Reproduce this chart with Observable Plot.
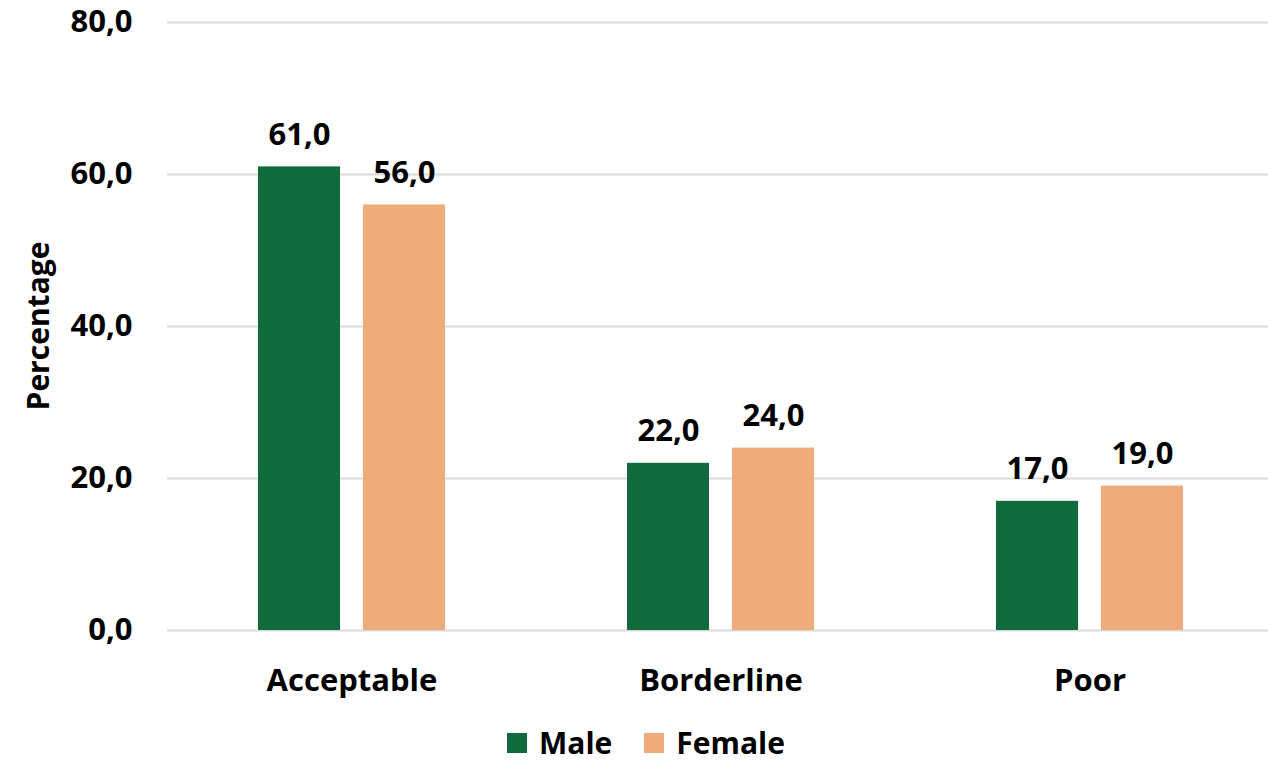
<!DOCTYPE html>
<html>
<head>
<meta charset="utf-8">
<script src="https://cdn.jsdelivr.net/npm/d3@7"></script>
<script src="https://cdn.jsdelivr.net/npm/@observablehq/plot@0.6"></script>
<style>
  html, body { margin: 0; background: #fff; font-family: "Open Sans", Lato, sans-serif; overflow: hidden; }
  #wrap { position: relative; width: 1268px; }
  #chart svg { display: block; }
  .ylabel { position: absolute; left: 38px; top: 326px; transform: translate(-50%, -50%) rotate(-90deg);
            white-space: nowrap; font-weight: 700; font-size: 30px; line-height: 1; color: #000; }
  .legend { display: flex; align-items: center; height: 30px; margin-top: 23px; padding-left: 507px; font-weight: 700; font-size: 30px; color: #000; }
  .legend .item { display: flex; align-items: center; margin-right: 32px; line-height: 30px; }
  .legend .sw { width: 20px; height: 20px; margin-right: 12px; }
</style>
</head>
<body>
<div id="wrap">
  <div id="chart"></div>
  <div class="ylabel">Percentage</div>
</div>
<script>
// Food consumption categories and share (%) by sex
const categories = ["Acceptable", "Borderline", "Poor"];
const sexes = ["Male", "Female"];
const maleValues = [61.0, 22.0, 17.0];
const femaleValues = [56.0, 24.0, 19.0];
const yTicks = [0, 20, 40, 60, 80];
const colors = ["#0f6b3c", "#f0ab7a"];

const rows = [];
categories.forEach((c, i) => {
  rows.push({category: c, sex: "Male", value: maleValues[i]});
  rows.push({category: c, sex: "Female", value: femaleValues[i]});
});

const fmt = d => d.toFixed(1).replace(".", ",");

const chart = Plot.plot({
  width: 1268,
  height: 705,
  marginTop: 22,
  marginBottom: 75,
  marginLeft: 166,
  marginRight: 0,
  style: {fontFamily: "'Open Sans', Lato, sans-serif", fontWeight: 700, fontSize: "31px", color: "#000", background: "#fff"},
  fx: {domain: categories, range: [166, 1274.5], padding: 0, axis: "bottom", tickSize: 0, tickPadding: 38, label: null},
  x: {domain: sexes, paddingInner: 0.2154, paddingOuter: 0.86, axis: null},
  y: {domain: [0, 80], ticks: yTicks, tickFormat: fmt, tickSize: 0, tickPadding: 35, label: null},
  color: {domain: sexes, range: colors},
  marks: [
    Plot.ruleY(yTicks, {stroke: "#d9d9d9", strokeWidth: 2}),
    Plot.barY(rows, {fx: "category", x: "sex", y: "value", fill: "sex"}),
    Plot.text(rows, {fx: "category", x: "sex", y: "value", text: d => fmt(d.value), dy: -32, fontSize: 31, fontWeight: 700, fill: "#000"})
  ]
});
document.getElementById("chart").appendChild(chart);

// Legend below the plot
const legend = document.createElement("div");
legend.className = "legend";
sexes.forEach((s, i) => {
  const item = document.createElement("div");
  item.className = "item";
  const sw = document.createElement("span");
  sw.className = "sw";
  sw.style.background = colors[i];
  const label = document.createElement("span");
  label.textContent = s;
  item.appendChild(sw);
  item.appendChild(label);
  legend.appendChild(item);
});
document.body.appendChild(legend);
</script>
</body>
</html>
